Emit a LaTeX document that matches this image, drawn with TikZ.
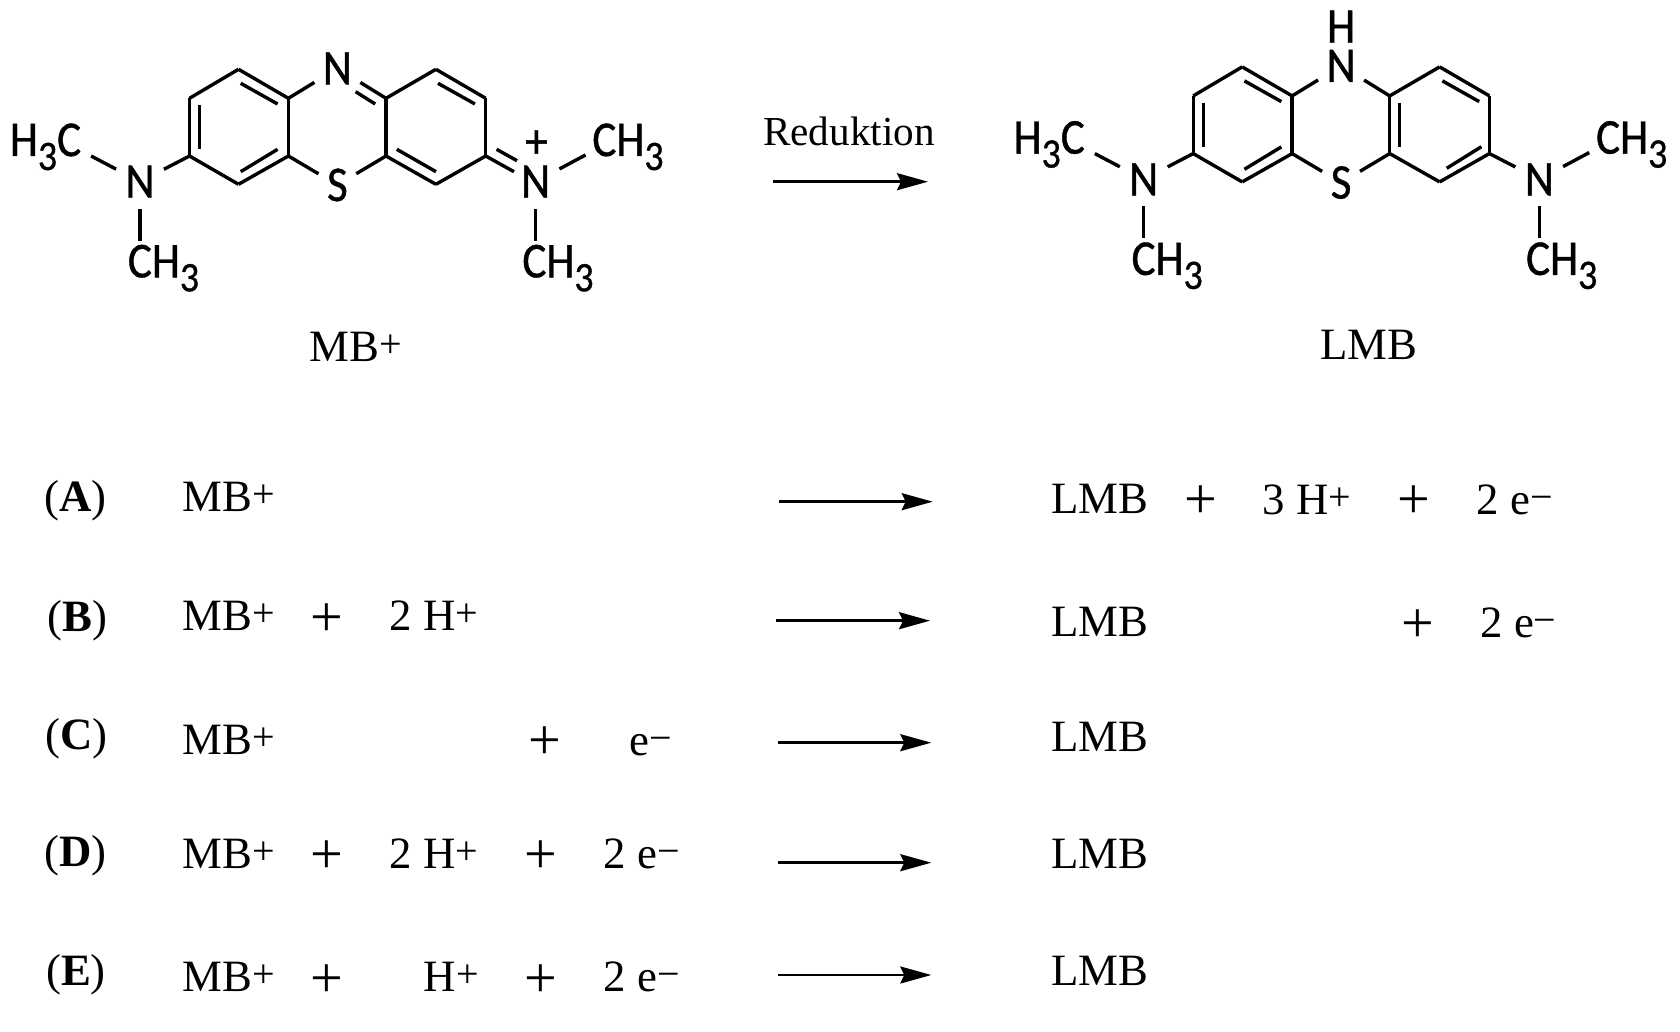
\documentclass[tikz,border=0pt]{standalone}
\usepackage{fontspec}
\setmainfont{Liberation Serif}
\newfontfamily\chemfont[FakeStretch=0.9,FakeBold=0.8]{Carlito}
\usetikzlibrary{arrows.meta}
\newcommand{\subthree}{\raisebox{-7pt}{\fontsize{21}{21}\selectfont 3}}
\newcommand{\charge}[1]{\raisebox{2pt}{\fontsize{20}{20}\selectfont #1}}
\tikzset{
    bond/.style={line width=1.7pt},
    reaction/.style={line width=1.3pt,-{Stealth[length=15.5pt,width=8.5pt,inset=2pt]}},
    atom/.style={circle,inner sep=0pt,outer sep=0pt,minimum size=27pt,
        font=\chemfont\fontsize{25}{25}\selectfont},
    sulfur/.style={atom,minimum size=22pt},
    methyl/.style={anchor=base west,inner sep=0pt,font=\chemfont\fontsize{25}{25}\selectfont},
    term/.style={anchor=base west,inner sep=0pt,font=\fontsize{22.4}{22.4}\selectfont},
    plussign/.style={inner sep=0pt,font=\fontsize{29}{29}\selectfont}
}
\begin{document}
\begin{tikzpicture}[x=0.5pt,y=-0.5pt]
    \useasboundingbox (0,0) rectangle (1680,1032);
    % oxidised form
    \begin{scope}[name prefix=mb-]
        \foreach \atomname/\xa/\ya in {
            a1/189.5/98.3, a2/238.5/69.3, a3/288.4/98.3, a4/288.4/156, a5/238.5/184.3, a6/189.5/156,
            b1/386/98.3, b2/435.9/69.3, b3/485.7/98.3, b4/485.7/156, b5/435.9/184.3, b6/386/156,
            i1/199.5/105, i2/199.5/149.3, i3/240.7/83.3, i4/277.6/104, i5/240.7/171.7, i6/277.6/149.3,
            j1/355.6/91.7, j2/375.2/104, j3/438/83.3, j4/474.9/104, j5/396.8/149.3, j6/436/171.7,
            k1/496.6/149.3, k2/517/160.7, k3/514/171.7,
            m1/91.1/156, m2/140/240.7, m3/585.5/155, m4/535.6/240.7}
            \coordinate (\atomname) at (\xa,\ya);
        \node[atom] (Ntop) at (337.4,68.3) {N};
        \node[sulfur] (S) at (337.4,185) {S};
        \node[atom] (Nleft) at (140,181.7) {N};
        \node[atom] (Nright) at (535.6,181.7) {N};
        \node[inner sep=0pt,font=\chemfont\fontsize{25}{25}\selectfont] (chargeN) at (536.5,144) {+};
        \node[methyl,anchor=base east] (meA) at (81.5,156) {H\subthree C};
        \node[methyl] (meB) at (127.5,277.3) {CH\subthree};
        \node[methyl] (meC) at (592,156) {CH\subthree};
        \node[methyl] (meD) at (522,277.3) {CH\subthree};
        \foreach \from/\to in {a1/a2, a2/a3, a3/a4, a4/a5, a5/a6, a6/a1, b1/b2, b2/b3, b3/b4, b4/b5, b5/b6,
            b6/b1, a3/Ntop, Ntop/b1, a4/S, S/b6, i1/i2, i3/i4, i5/i6, j1/j2, j3/j4, j5/j6, k1/k2,
            a6/Nleft, Nleft/m1, Nleft/m2, Nright/m3, Nright/m4}
            \draw[bond] (\from) -- (\to);
        \draw[bond] (b4) -- (k3);
    \end{scope}
    % reduced form
    \begin{scope}[shift={(1003.7,-2.4)},name prefix=lmb-]
        \foreach \atomname/\xa/\ya in {
            a1/189.5/98.3, a2/238.5/69.3, a3/288.4/98.3, a4/288.4/156, a5/238.5/184.3, a6/189.5/156,
            b1/386/98.3, b2/435.9/69.3, b3/485.7/98.3, b4/485.7/156, b5/435.9/184.3, b6/386/156,
            i1/199.5/105, i2/199.5/149.3, i3/240.7/83.3, i4/277.6/104, i5/240.7/171.7, i6/277.6/149.3,
            j1/396/105, j2/396/149.3, j3/438.7/83.3, j4/475.5/104, j5/443/170.7, j6/477.7/149.1,
            m1/91.1/156, m2/140/240.7, m3/585.5/155, m4/535.6/240.7}
            \coordinate (\atomname) at (\xa,\ya);
        \node[atom] (Ntop) at (337.4,68.3) {N};
        \node[atom,minimum size=0pt] (Hamine) at (337.4,29.1) {H};
        \node[sulfur] (S) at (337.4,185) {S};
        \node[atom] (Nleft) at (140,181.7) {N};
        \node[atom] (Nright) at (535.6,181.7) {N};
        \node[methyl,anchor=base east] (meA) at (81.5,156) {H\subthree C};
        \node[methyl] (meB) at (127.5,277.3) {CH\subthree};
        \node[methyl] (meC) at (592,156) {CH\subthree};
        \node[methyl] (meD) at (522,277.3) {CH\subthree};
        \foreach \from/\to in {a1/a2, a2/a3, a3/a4, a4/a5, a5/a6, a6/a1, b1/b2, b2/b3, b3/b4, b4/b5, b5/b6,
            b6/b1, a3/Ntop, Ntop/b1, a4/S, S/b6, i1/i2, i3/i4, i5/i6, j1/j2, j3/j4, j5/j6,
            a6/Nleft, b4/Nright, Nleft/m1, Nleft/m2, Nright/m3, Nright/m4}
            \draw[bond] (\from) -- (\to);
    \end{scope}
    \node[term] (nameMB) at (309.5,361) {MB\charge{+}};
    \node[term] (nameLMB) at (1320,359.5) {LMB};
    \node[term,font=\fontsize{20.6}{20.6}\selectfont] (reduktion) at (762.7,146) {Reduktion};
    \coordinate (startTop) at (773.3,181.7);
    \coordinate (endTop) at (928,181.7);
    \draw[reaction] (startTop) -- (endTop);
    \foreach \rowname/\xa/\xb/\ya in {
        A/779.3/932.7/501.7, B/776/930/620.7, C/778/931.3/742.7, D/778/931.3/862.7, E/778/931.3/975}{
        \coordinate (start\rowname) at (\xa,\ya);
        \coordinate (end\rowname) at (\xb,\ya);
        \draw[reaction] (start\rowname) -- (end\rowname);
    }
    % row A
    \node[term] (labelA) at (43.9,511.5) {(\textbf{A})};
    \node[term] (mbA) at (182,511.7) {MB\charge{+}};
    \node[term] (lmbA) at (1050.7,513.3) {LMB};
    \node[plussign] (plusAa) at (1200.7,501.7) {+};
    \node[term] (protonA) at (1262.5,514) {3 H\charge{+}};
    \node[plussign] (plusAb) at (1414.3,501.7) {+};
    \node[term] (electronA) at (1476.5,514) {2 e\charge{−}};
    % row B
    \node[term] (labelB) at (47,631.5) {(\textbf{B})};
    \node[term] (mbB) at (182,630.7) {MB\charge{+}};
    \node[plussign] (plusBa) at (327.3,620) {+};
    \node[term] (protonB) at (389,630.7) {2 H\charge{+}};
    \node[term] (lmbB) at (1050.7,636.7) {LMB};
    \node[plussign] (plusBb) at (1418.3,625.7) {+};
    \node[term] (electronB) at (1480,637.7) {2 e\charge{−}};
    % row C
    \node[term] (labelC) at (45,749) {(\textbf{C})};
    \node[term] (mbC) at (182,754) {MB\charge{+}};
    \node[plussign] (plusC) at (545,742.7) {+};
    \node[term] (electronC) at (629.5,755) {e\charge{−}};
    \node[term] (lmbC) at (1050.7,751.7) {LMB};
    % row D
    \node[term] (labelD) at (44,866.5) {(\textbf{D})};
    \node[term] (mbD) at (182,868.3) {MB\charge{+}};
    \node[plussign] (plusDa) at (327.3,857.3) {+};
    \node[term] (protonD) at (389,868.3) {2 H\charge{+}};
    \node[plussign] (plusDb) at (541.3,857.3) {+};
    \node[term] (electronD) at (603.5,868.3) {2 e\charge{−}};
    \node[term] (lmbD) at (1050.7,868.3) {LMB};
    % row E
    \node[term] (labelE) at (45.7,985) {(\textbf{E})};
    \node[term] (mbE) at (182,991.7) {MB\charge{+}};
    \node[plussign] (plusEa) at (327.3,980.7) {+};
    \node[term] (protonE) at (423.5,991.7) {H\charge{+}};
    \node[plussign] (plusEb) at (541.3,980.7) {+};
    \node[term] (electronE) at (603.5,991.7) {2 e\charge{−}};
    \node[term] (lmbE) at (1050.7,985.7) {LMB};
\end{tikzpicture}
\end{document}
